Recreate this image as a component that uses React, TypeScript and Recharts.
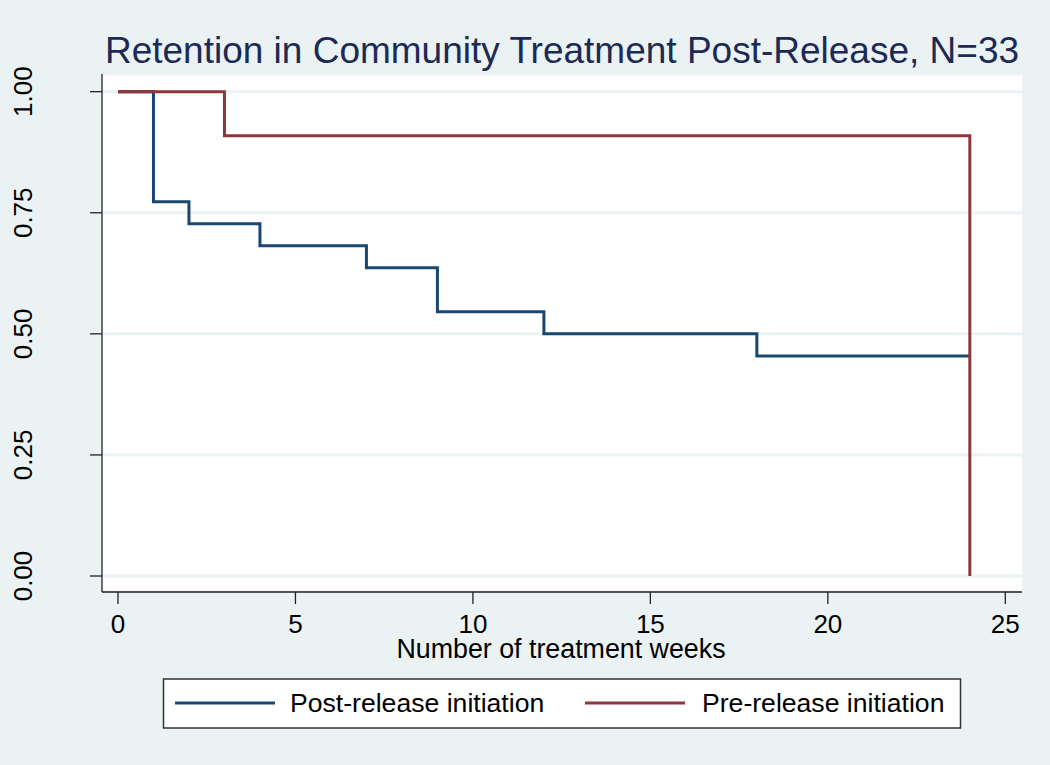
import React from 'react';
import { LineChart, Line, XAxis, YAxis, CartesianGrid } from 'recharts';

// Kaplan-Meier estimates
const postWeeks = [0, 1, 2, 4, 7, 9, 12, 18, 24];
const postSurvival = [1, 0.7727, 0.7273, 0.6818, 0.6364, 0.5455, 0.5, 0.4545, 0.4545];
const preWeeks = [0, 3, 24];
const preSurvival = [1, 0.9091, 0];

const xTicks = [0, 5, 10, 15, 20, 25];
const yTicks = [0, 0.25, 0.5, 0.75, 1];

const seriesNames = ['Post-release initiation', 'Pre-release initiation'];
const seriesColors = ['#1a476f', '#90353b'];

const titleText = 'Retention in Community Treatment Post-Release, N=33';
const xLabelText = 'Number of treatment weeks';

const postData = postWeeks.map((x, i) => ({ x, y: postSurvival[i] }));
const preData = preWeeks.map((x, i) => ({ x, y: preSurvival[i] }));

const FONT = '"Liberation Sans", Arial, Helvetica, sans-serif';

const XTick = (props: any) => {
  const { x, y, payload } = props;
  return (
    <text x={x} y={y + 27} textAnchor="middle" fontSize={26} fontFamily={FONT} fill="#000">
      {String(payload.value)}
    </text>
  );
};

const YTick = (props: any) => {
  const { x, y, payload } = props;
  const bx = x - 56;
  return (
    <text
      x={bx}
      y={y}
      textAnchor="middle"
      fontSize={26}
      fontFamily={FONT}
      fill="#000"
      transform={`rotate(-90 ${bx} ${y})`}
    >
      {Number(payload.value).toFixed(2)}
    </text>
  );
};

const legendItems = [
  { lineX: 175, textX: 290 },
  { lineX: 585, textX: 702 },
];

export default function App() {
  return (
    <div
      style={{
        position: 'absolute',
        left: 0,
        top: 0,
        width: 1050,
        height: 765,
        background: '#eaf2f3',
        fontFamily: FONT,
      }}
    >
      <LineChart
        width={1050}
        height={765}
        margin={{ top: 74, right: 28, bottom: 113, left: 0 }}
      >
        <CartesianGrid
          vertical={false}
          stroke="#eaf2f3"
          strokeWidth={3}
          fill="#ffffff"
          fillOpacity={1}
        />
        <XAxis
          type="number"
          dataKey="x"
          domain={[-0.45, 25.47]}
          ticks={xTicks}
          allowDataOverflow
          height={60}
          tickSize={12}
          axisLine={{ stroke: '#222', strokeWidth: 1.3 }}
          tickLine={{ stroke: '#222', strokeWidth: 1.3 }}
          tick={<XTick />}
          interval={0}
        />
        <YAxis
          type="number"
          domain={[-0.033, 1.0365]}
          ticks={yTicks}
          allowDataOverflow
          width={102}
          tickSize={12}
          axisLine={{ stroke: '#222', strokeWidth: 1.3 }}
          tickLine={{ stroke: '#222', strokeWidth: 1.3 }}
          tick={<YTick />}
          interval={0}
        />
        <Line
          data={postData}
          dataKey="y"
          type="stepAfter"
          stroke={seriesColors[0]}
          strokeWidth={3}
          dot={false}
          activeDot={false}
          isAnimationActive={false}
          name={seriesNames[0]}
        />
        <Line
          data={preData}
          dataKey="y"
          type="stepAfter"
          stroke={seriesColors[1]}
          strokeWidth={3}
          dot={false}
          activeDot={false}
          isAnimationActive={false}
          name={seriesNames[1]}
        />
      </LineChart>
      <svg
        width={1050}
        height={765}
        style={{ position: 'absolute', left: 0, top: 0, pointerEvents: 'none' }}
      >
        <text x={562} y={63} textAnchor="middle" fontSize={37} fontFamily={FONT} fill="#1c2a55">
          {titleText}
        </text>
        <text x={561} y={658} textAnchor="middle" fontSize={26.8} fontFamily={FONT} fill="#000">
          {xLabelText}
        </text>
        <rect x={163.5} y={679} width={797} height={49} fill="#ffffff" stroke="#333" strokeWidth={1.5} />
        {seriesNames.map((name, i) => (
          <g key={name}>
            <line
              x1={legendItems[i].lineX}
              x2={legendItems[i].lineX + 100}
              y1={703}
              y2={703}
              stroke={seriesColors[i]}
              strokeWidth={3}
            />
            <text x={legendItems[i].textX} y={712} fontSize={26.6} fontFamily={FONT} fill="#000">
              {name}
            </text>
          </g>
        ))}
      </svg>
    </div>
  );
}
